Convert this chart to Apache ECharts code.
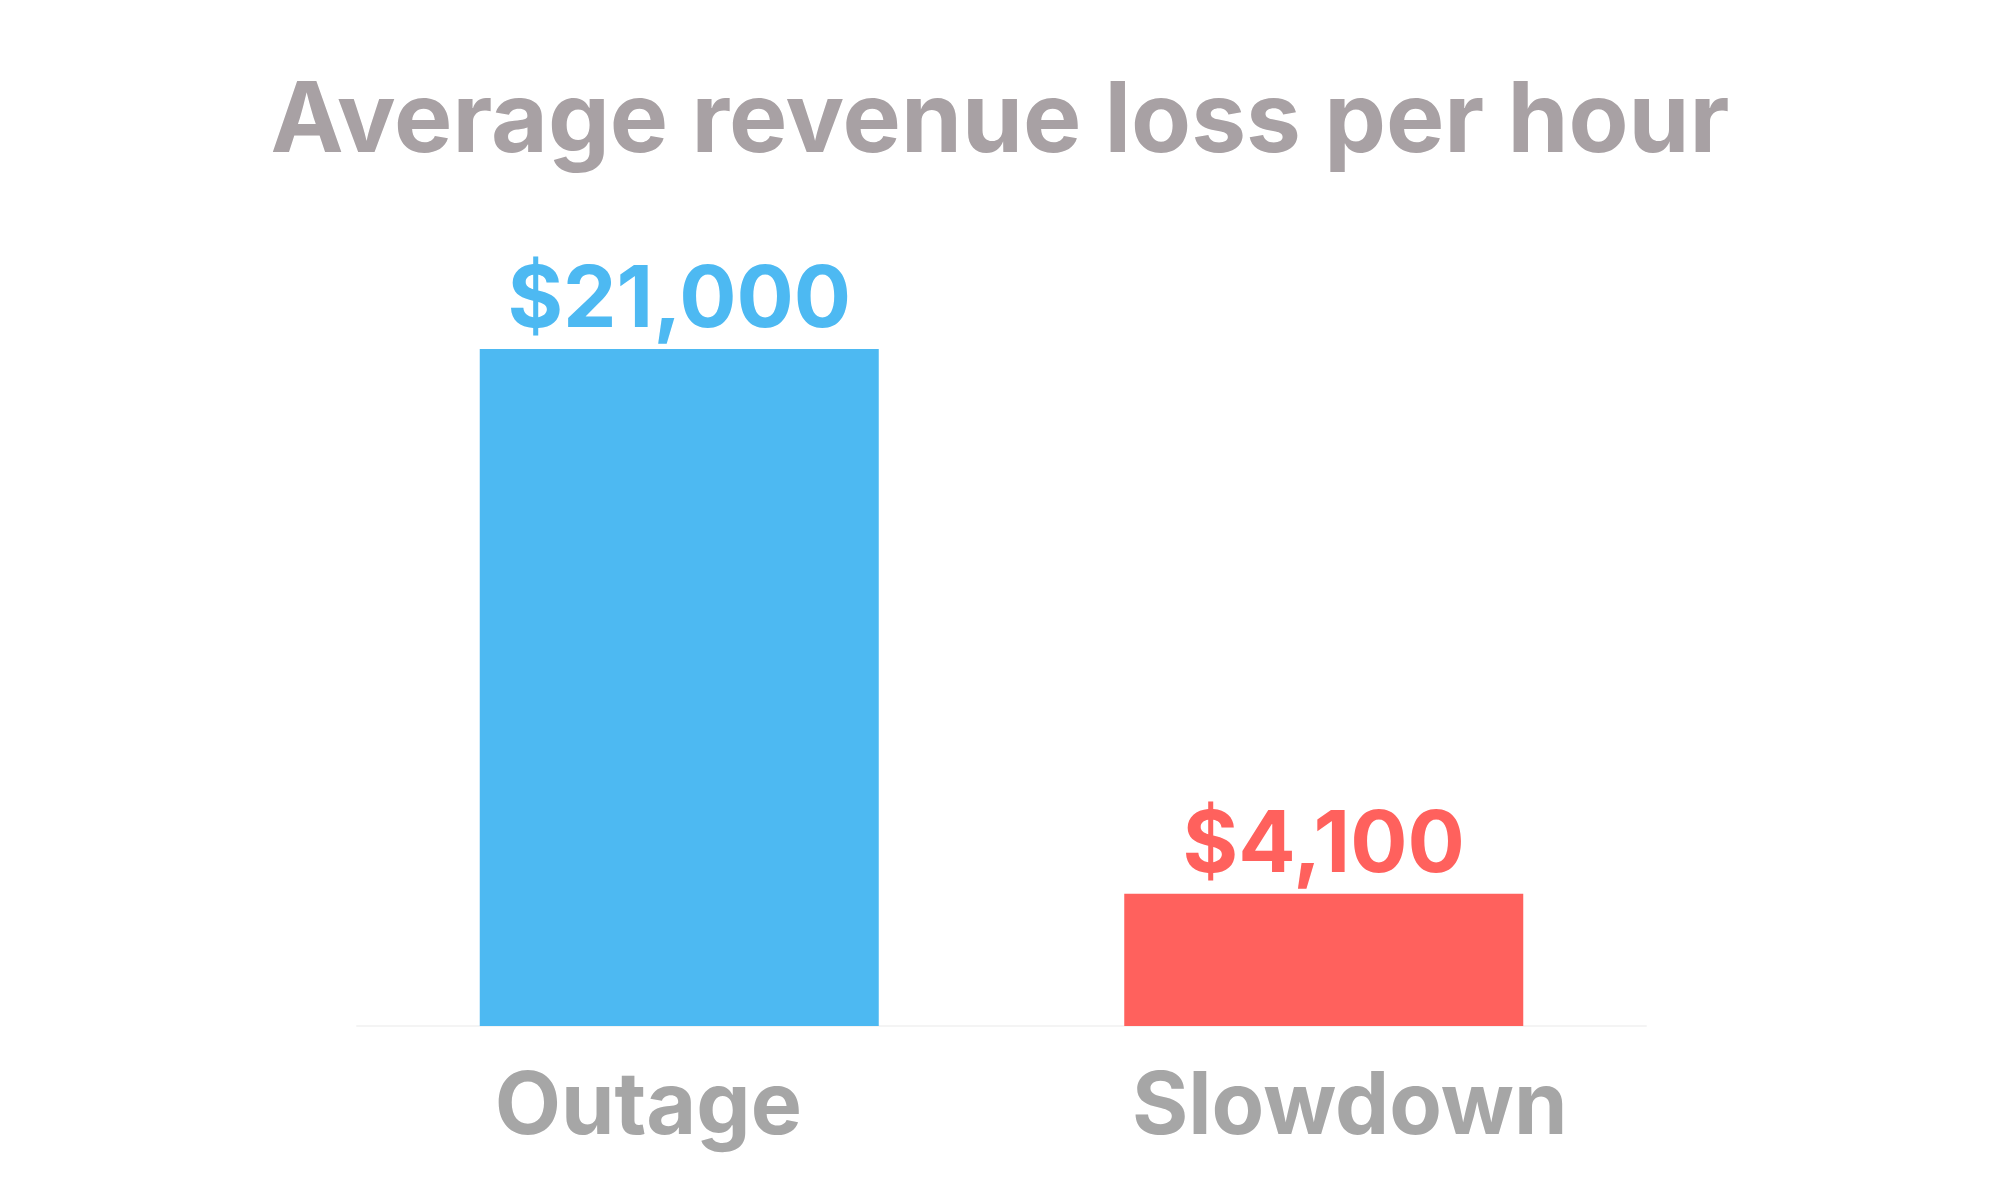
<!DOCTYPE html>
<html>
<head>
<meta charset="utf-8">
<script src="https://cdn.jsdelivr.net/npm/echarts@6/dist/echarts.min.js"></script>
<style>
html,body{margin:0;padding:0;background:#fff;}
#chart{width:2000px;height:1189px;}
</style>
</head>
<body>
<div id="chart"></div>
<script>
const categories = ['Outage', 'Slowdown'];
const values = [21000, 4100];
const barColors = ['#4db9f2', '#ff615d'];
const titleText = 'Average revenue loss per hour';

const chart = echarts.init(document.getElementById('chart'));
chart.setOption({
  backgroundColor: '#ffffff',
  animation: false,
  title: {
    text: titleText,
    left: 'center',
    top: 69,
    textStyle: {
      fontFamily: 'Inter',
      fontWeight: 'bold',
      fontSize: 98,
      color: '#a8a1a4'
    }
  },
  grid: { left: 357, right: 354, top: 349, bottom: 163 },
  xAxis: {
    type: 'category',
    data: categories,
    axisLine: { show: true, lineStyle: { color: '#f4f4f4', width: 2 } },
    axisTick: { show: false },
    axisLabel: {
      margin: 39,
      formatter: (v, i) => '{c' + i + '|' + v + '}',
      rich: {
        c0: { fontFamily: 'Inter', fontWeight: 'bold', fontSize: 86, color: '#a6a6a6', padding: [0, 62, 0, 0] },
        c1: { fontFamily: 'Inter', fontWeight: 'bold', fontSize: 86, color: '#a6a6a6', padding: [0, 0, 0, 52] }
      }
    }
  },
  yAxis: {
    type: 'value',
    min: 0,
    max: 21000,
    show: false,
    splitLine: { show: false }
  },
  series: [{
    type: 'bar',
    barWidth: 399,
    data: values.map((v, i) => ({ value: v, itemStyle: { color: barColors[i] } })),
    label: {
      show: true,
      position: 'top',
      distance: 5,
      fontFamily: 'Inter',
      fontWeight: 'bold',
      fontSize: 85,
      formatter: p => '$' + p.value.toLocaleString('en-US'),
      color: 'inherit'
    }
  }]
});
</script>
</body>
</html>
